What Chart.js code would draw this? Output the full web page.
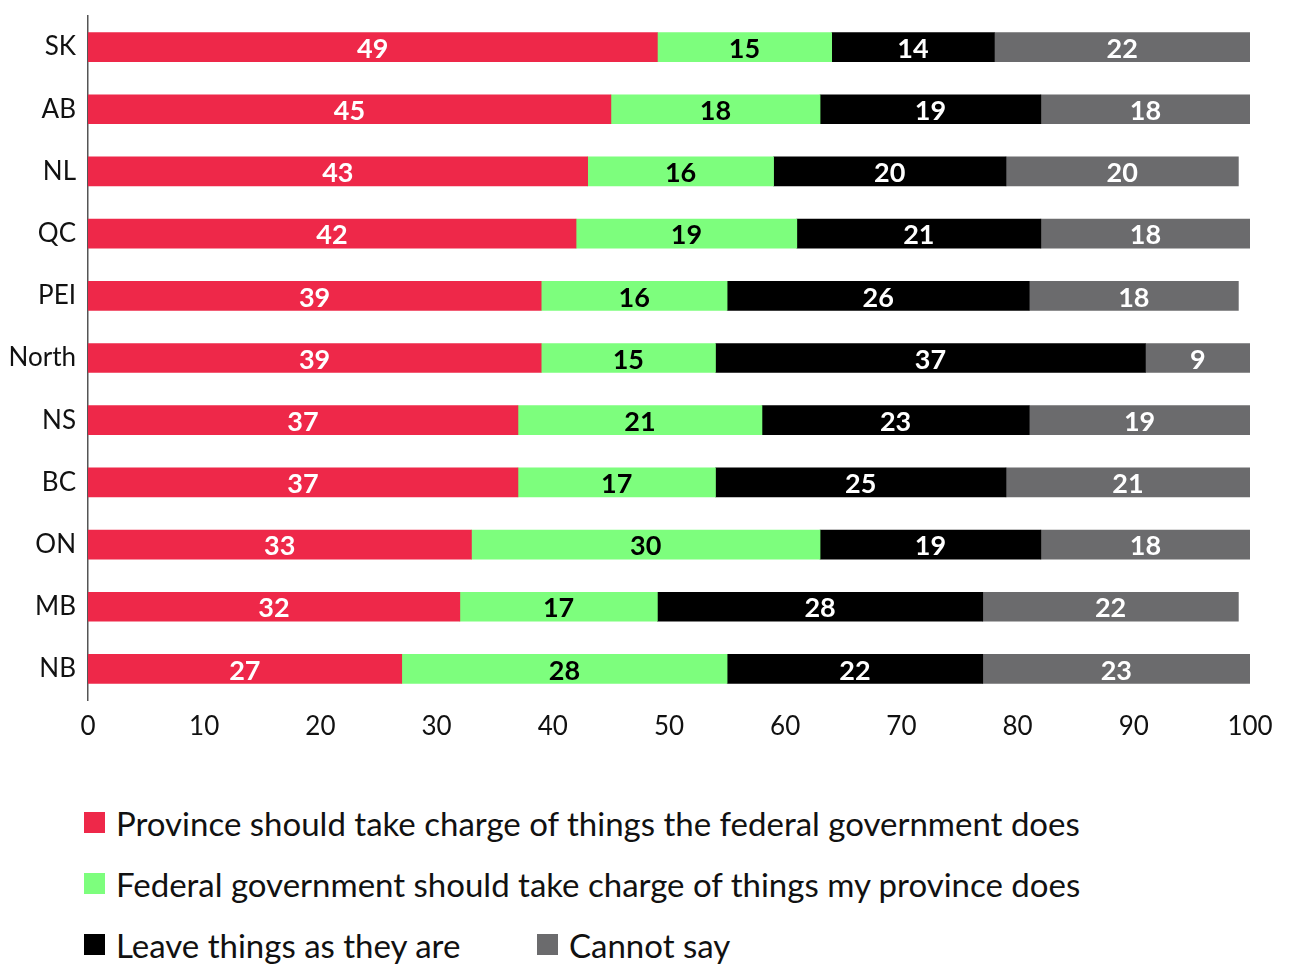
<!DOCTYPE html>
<html lang="en">
<head>
<meta charset="UTF-8">
<title>Province vs federal</title>
<script src="https://cdn.jsdelivr.net/npm/chart.js"></script>
<style>
    body { margin: 0; background: #fff; font-family: Lato, "Noto Sans", sans-serif; color: #111; }
    #wrap { position: relative; width: 1296px; height: 964px; }
    #legend { position: absolute; left: 84px; top: 792px; font-size: 33px; }
    .row { display: flex; height: 61px; align-items: center; }
    .item { display: flex; align-items: center; }
    .item.wide { width: 453px; }
    .box { width: 21px; height: 21px; margin-right: 11px; }
</style>
</head>
<body>
<div id="wrap">
    <canvas id="chart" width="1296" height="760"></canvas>
    <div id="legend"></div>
</div>
<script>
    const provinces = ['SK', 'AB', 'NL', 'QC', 'PEI', 'North', 'NS', 'BC', 'ON', 'MB', 'NB'];

    // % answering each option
    const provinceTakeCharge = [49, 45, 43, 42, 39, 39, 37, 37, 33, 32, 27];
    const federalTakeCharge  = [15, 18, 16, 19, 16, 15, 21, 17, 30, 17, 28];
    const leaveAsIs          = [14, 19, 20, 21, 26, 37, 23, 25, 19, 28, 22];
    const cannotSay          = [22, 18, 20, 18, 18,  9, 19, 21, 18, 22, 23];

    const seriesNames = [
        'Province should take charge of things the federal government does',
        'Federal government should take charge of things my province does',
        'Leave things as they are',
        'Cannot say'
    ];
    const colors = ['#ee2849', '#7dfe7d', '#000000', '#6b6b6d'];
    const labelColors = ['#fff', '#000', '#fff', '#fff'];

    const font = 'Lato, "Noto Sans", sans-serif';

    // numbers in the middle of each segment
    const barLabels = {
        id: 'barLabels',
        afterDatasetsDraw(chart) {
            const ctx = chart.ctx;
            ctx.save();
            ctx.font = 'bold 27px ' + font;
            ctx.textAlign = 'center';
            ctx.textBaseline = 'middle';
            chart.data.datasets.forEach((ds, i) => {
                chart.getDatasetMeta(i).data.forEach((bar, j) => {
                    const p = bar.getCenterPoint();
                    ctx.fillStyle = labelColors[i];
                    ctx.fillText(ds.data[j], p.x, p.y + 2);
                });
            });
            ctx.restore();
        }
    };

    new Chart(document.getElementById('chart'), {
        type: 'bar',
        data: {
            labels: provinces,
            datasets: [provinceTakeCharge, federalTakeCharge, leaveAsIs, cannotSay].map((d, i) => ({
                label: seriesNames[i],
                data: d,
                backgroundColor: colors[i],
                borderWidth: 0,
                barThickness: 29
            }))
        },
        options: {
            indexAxis: 'y',
            responsive: false,
            animation: false,
            layout: { padding: { top: 16, right: 46, left: 0, bottom: 0 } },
            plugins: { legend: { display: false }, tooltip: { enabled: false } },
            scales: {
                x: {
                    stacked: true,
                    min: 0, max: 100,
                    ticks: { stepSize: 10, color: '#111', font: { family: font, size: 26 }, padding: 11 },
                    grid: { display: false, drawTicks: false },
                    border: { display: false },
                    afterFit(s) { s.height = 60; }
                },
                y: {
                    stacked: true,
                    ticks: { color: '#111', font: { family: font, size: 26 }, padding: 12 },
                    grid: { display: false, drawTicks: false },
                    border: { display: true, color: '#555', width: 1.5 },
                    afterFit(s) { s.width = 88; s.paddingTop = 0; s.paddingBottom = 0; }
                }
            }
        },
        plugins: [barLabels]
    });

    // legend: first two on their own rows, last two share a row
    const legend = document.getElementById('legend');
    [[0], [1], [2, 3]].forEach(group => {
        const row = document.createElement('div');
        row.className = 'row';
        group.forEach((i, k) => {
            const item = document.createElement('div');
            item.className = 'item' + (group.length > 1 && k === 0 ? ' wide' : '');
            item.innerHTML = '<span class="box" style="background:' + colors[i] + '"></span><span>' + seriesNames[i] + '</span>';
            row.appendChild(item);
        });
        legend.appendChild(row);
    });
</script>
</body>
</html>
